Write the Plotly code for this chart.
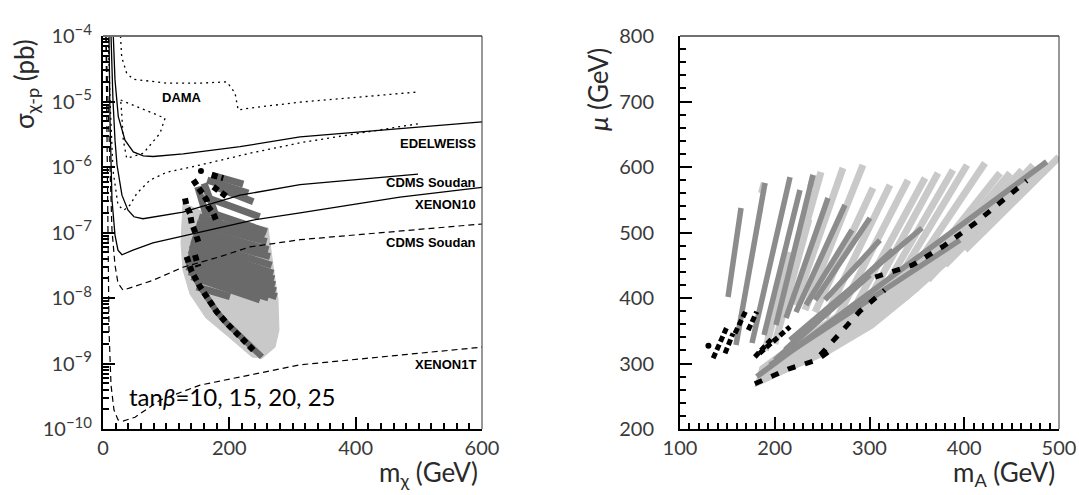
import plotly.graph_objects as go

# ---------------- Left panel: direct-detection limits (m_chi [GeV], log10 sigma [pb]) ----------------
edelweiss_m = [16.3, 19, 24.2, 34.8, 48, 63.8, 79.6, 127, 217, 312, 499, 600]
edelweiss_lg = [-4.0, -4.67, -5.23, -5.59, -5.77, -5.83, -5.84, -5.80, -5.69, -5.54, -5.39, -5.31]

cdms_m = [12.7, 15.8, 19, 22.2, 30, 39.6, 49, 63.3, 126.6, 217, 312, 498.7]
cdms_lg = [-4.0, -4.98, -5.59, -5.97, -6.43, -6.66, -6.76, -6.79, -6.69, -6.43, -6.27, -6.11]

xenon10_m = [9.5, 11.1, 14.2, 19, 23.7, 30, 47.5, 79, 133, 185, 237.5, 312, 470, 600]
xenon10_lg = [-4.0, -5.28, -6.50, -7.04, -7.27, -7.34, -7.27, -7.16, -7.04, -6.93, -6.81, -6.70, -6.46, -6.31]

cdms_proj_m = [4.7, 7.9, 11.1, 14.2, 19, 23.7, 31.7, 47.5, 79, 126.6, 185, 232.7, 312, 600]
cdms_proj_lg = [-4.0, -4.98, -6.05, -6.96, -7.50, -7.77, -7.88, -7.83, -7.73, -7.53, -7.37, -7.22, -7.11, -6.87]

xenon1t_m = [4.7, 6.3, 7.9, 9.5, 12.7, 17.4, 23.7, 31.7, 50.7, 90.2, 153.6, 232.7, 312, 600]
xenon1t_lg = [-4.0, -5.74, -7.27, -8.49, -9.33, -9.71, -9.86, -9.88, -9.82, -9.56, -9.33, -9.18, -9.02, -8.75]

dama_upper_m = [27.7, 29.6, 37.5, 48, 101, 153.6, 196, 209, 214, 232.7, 312, 498.7]
dama_upper_lg = [-4.0, -4.32, -4.57, -4.66, -4.72, -4.72, -4.70, -4.87, -5.13, -5.10, -5.01, -4.855]

dama_loop_m = [28, 98.2, 90.2, 63.8, 37.5, 32.1, 29.6, 28]
dama_loop_lg = [-4.977, -5.256, -5.486, -5.79, -5.867, -5.588, -5.18, -4.977]

dama_lower_m = [8.7, 11.1, 15.8, 23.7, 33.2, 42.7, 53.8, 74.4, 101, 153.6, 232.7, 312, 498.7]
dama_lower_lg = [-4.06, -4.98, -6.05, -6.58, -6.66, -6.58, -6.40, -6.20, -6.08, -5.97, -5.79, -5.63, -5.34]

# ---------------- Left panel: neutralino scan ----------------
# outline of the densely populated light-grey band
band_m = [126.6, 169.4, 216.9, 261.2, 272.3, 277, 278.6, 272.3, 251.7, 235.9, 201, 163, 137.7, 126.6, 123.5, 126.6]
band_lg = [-6.55, -6.733, -6.84, -6.93, -7.725, -8.03, -8.49, -8.75, -8.92, -8.90, -8.61, -8.305, -7.94, -7.57, -7.16, -6.55]

# dark-grey strands: (m0, lg0, m1, lg1)
dark_strands = [
    (172.1, -6.122, 222.1, -6.26),
    (165.0, -6.20, 230.0, -6.40),
    (177.3, -6.30, 237.9, -6.53),
    (160.0, -6.45, 248.0, -6.76),
    (158.8, -6.656, 259.2, -6.988),
    (152.0, -6.76, 256.0, -7.06),
    (148.3, -6.86, 259.2, -7.14),
    (145.0, -6.95, 262.0, -7.26),
    (143.0, -7.038, 264.4, -7.37),
    (140.0, -7.11, 267.0, -7.50),
    (137.7, -7.19, 269.6, -7.623),
    (136.0, -7.27, 271.0, -7.71),
    (135.0, -7.344, 272.3, -7.80),
    (133.5, -7.43, 273.5, -7.89),
    (132.5, -7.52, 274.9, -7.98),
    (136.0, -7.60, 262.0, -8.00),
    (140.4, -7.675, 248.5, -8.03),
    (148.3, -7.83, 201.0, -7.98),
    (150.0, -6.30, 170.0, -6.95),
    (160.0, -6.25, 185.0, -6.90),
]

# black chains
black_a_m = [143, 148.3, 156.2, 164.2, 166.7, 174.6, 180]
black_a_lg = [-6.198, -6.275, -6.377, -6.504, -6.606, -6.707, -6.835]
black_b_m = [129.8, 132.5, 137.7, 140.4, 145.6, 150.9]
black_b_lg = [-6.478, -6.606, -6.707, -6.860, -6.988, -7.140]
black_c_m = [172.1, 180, 190.4]
black_c_lg = [-6.122, -6.148, -6.172]
black_d_m = [174.6, 185.2, 195.8]
black_d_lg = [-6.301, -6.377, -6.453]
black_dot_m = [155.1]
black_dot_lg = [-6.061]
black_low_m = [132.5, 135, 140.4, 153.6, 164.2, 180, 195.8, 211.7, 235.4, 240.6]
black_low_lg = [-7.37, -7.446, -7.598, -7.827, -7.98, -8.209, -8.386, -8.539, -8.768, -8.82]
black_short_m = [145.6, 150.9]
black_short_lg = [-7.344, -7.522]

# ---------------- Right panel: m_A [GeV] vs mu [GeV] ----------------
light_band_mA = [179.2, 216.1, 258.3, 304.0, 346.3, 399.0, 451.8, 500, 494, 416.6, 346.3, 275.9, 223.1, 184.4, 179.2]
light_band_mu = [264.6, 289.1, 315.5, 354.7, 404.6, 472.3, 542.0, 610.7, 610.7, 529.3, 458.0, 386.8, 335.9, 295.2, 264.6]

# (mA0, mu0, mA1, mu1)
light_strands = [
    (210.8, 396.9, 248.8, 592.4), (221.4, 389.3, 272.0, 598.5), (231.9, 381.7, 293.1, 603.0),
    (242.5, 378.6, 303.7, 567.9), (253.0, 369.5, 321.6, 572.5), (263.6, 363.4, 340.6, 580.1),
    (274.1, 358.8, 358.6, 583.2), (284.7, 358.8, 372.3, 590.8), (295.2, 363.4, 388.1, 595.4),
    (305.8, 369.5, 402.9, 603.0), (316.4, 378.6, 421.9, 606.1), (326.9, 389.3, 437.7, 590.8),
    (337.5, 400.0, 448.3, 590.8), (348.0, 412.2, 460.9, 595.4), (361.7, 427.5, 472.6, 603.0),
    (379.7, 450.4, 487.3, 607.6), (400.8, 473.3, 500.0, 615.3),
    (200.0, 330.0, 236.0, 520.0), (190.0, 320.0, 216.0, 470.0), (186.0, 560.0, 189.0, 576.0),
    (238.0, 570.0, 241.0, 588.0),
]
gray_strands = [
    (150.7, 401.5, 164.4, 537.4), (159.1, 328.2, 189.7, 575.6), (176.0, 331.3, 216.1, 584.7),
    (188.7, 343.5, 226.6, 564.9), (201.3, 358.8, 240.4, 587.8), (211.9, 369.5, 256.2, 552.7),
    (222.4, 378.6, 274.1, 542.0), (233.0, 389.3, 281.5, 503.8), (242.5, 397.0, 300.5, 522.0),
    (253.0, 397.0, 311.0, 488.5),
    (216.1, 335.9, 355.4, 506.9), (210.8, 320.6, 324.8, 473.3), (200.3, 305.3, 300.5, 435.1),
    (194.9, 297.7, 395.5, 488.5), (181.0, 280.0, 487.0, 608.0),
]
black_r_strands = [
    (135, 308, 149, 354), (147.5, 315.5, 156, 346), (158, 346, 169, 379), (172, 351, 181, 379),
    (179, 310, 197, 338), (184, 315.5, 216, 356),
]
black_r_dot_mA = [130]
black_r_dot_mu = [327]
black_r_low_mA = [179, 215, 244, 260]
black_r_low_mu = [269, 292, 305, 321]
black_r_mid_mA = [248, 290, 316]
black_r_mid_mu = [313, 380, 412]
black_r_up_mA = [306, 345, 378, 412, 466]
black_r_up_mu = [432, 450, 479, 515, 579]

LIGHT = "#c9c9c9"
MID = "#8c8c8c"
DARK = "#6a6a6a"

fig = go.Figure()


def pw(v):
    return [10 ** t for t in v]


def strands_xy(strands, logy=False):
    xs, ys = [], []
    for x0, y0, x1, y1 in strands:
        xs += [x0, x1, None]
        ys += ([10 ** y0, 10 ** y1] if logy else [y0, y1]) + [None]
    return xs, ys


def line(x, y, color, width, dash="solid", xa="x", ya="y", fill=None, mode="lines"):
    fig.add_trace(go.Scatter(
        x=x, y=y, mode=mode, xaxis=xa, yaxis=ya, fill=fill,
        fillcolor=color if fill else None,
        line=dict(color=color, width=width, dash=dash),
        marker=dict(color=color, size=6),
        hoverinfo="skip", showlegend=False))


# left scan
line(band_m, pw(band_lg), LIGHT, 1, fill="toself")
xs, ys = strands_xy(dark_strands, logy=True)
line(xs, ys, DARK, 7)
line(black_low_m + [251.7], pw(black_low_lg + [-8.90]), DARK, 6)
for mm, ll in [(black_a_m, black_a_lg), (black_b_m, black_b_lg), (black_c_m, black_c_lg),
               (black_d_m, black_d_lg), (black_low_m, black_low_lg), (black_short_m, black_short_lg)]:
    line(mm, pw(ll), "black", 6, dash="6px,4px")
line(black_dot_m, pw(black_dot_lg), "black", 1, mode="markers")

# left curves
line(edelweiss_m, pw(edelweiss_lg), "black", 1.3)
line(cdms_m, pw(cdms_lg), "black", 1.3)
line(xenon10_m, pw(xenon10_lg), "black", 1.3)
line(cdms_proj_m, pw(cdms_proj_lg), "black", 1.2, dash="6px,4px")
line(xenon1t_m, pw(xenon1t_lg), "black", 1.2, dash="6px,4px")
line(dama_upper_m, pw(dama_upper_lg), "black", 1.3, dash="2px,4px")
line(dama_loop_m, pw(dama_loop_lg), "black", 1.3, dash="2px,4px")
line(dama_lower_m, pw(dama_lower_lg), "black", 1.3, dash="2px,4px")

# right scan
line(light_band_mA, light_band_mu, LIGHT, 1, xa="x2", ya="y2", fill="toself")
xs, ys = strands_xy(light_strands)
line(xs, ys, LIGHT, 7, xa="x2", ya="y2")
xs, ys = strands_xy(gray_strands)
line(xs, ys, MID, 5.5, xa="x2", ya="y2")
xs, ys = strands_xy(black_r_strands)
line(xs, ys, "black", 5, dash="6px,3px", xa="x2", ya="y2")
line(black_r_dot_mA, black_r_dot_mu, "black", 1, xa="x2", ya="y2", mode="markers")
for a, b in [(black_r_low_mA, black_r_low_mu), (black_r_mid_mA, black_r_mid_mu), (black_r_up_mA, black_r_up_mu)]:
    line(a, b, "black", 5, dash="8px,10px", xa="x2", ya="y2")

# ---------------- axes ----------------
TICKFONT = dict(family="Lato, 'Open Sans', sans-serif", size=20, color="#3a3a3a")
dec = list(range(-10, -3))
ytickvals = [10 ** d for d in dec]
ytext = ["10<sup><span style='font-size:15px'>\u2212%d</span></sup>" % (-d) for d in dec]
yminor = [k * 10 ** d for d in range(-10, -4) for k in range(2, 10)]

common = dict(ticks="inside", tickcolor="black", showgrid=False, zeroline=False, automargin=False,
              showline=True, linecolor="black", linewidth=2, mirror=False, tickfont=TICKFONT)

fig.update_layout(
    width=1079, height=495, margin=dict(l=0, r=0, t=0, b=0, autoexpand=False),
    plot_bgcolor="white", paper_bgcolor="white", showlegend=False,
    xaxis=dict(domain=[103 / 1079, 482 / 1079], range=[0, 600], tickvals=[0, 200, 400, 600],
               ticklen=12, tickwidth=1.5, anchor="y", ticklabelstandoff=0,
               minor=dict(ticks="inside", tickvals=list(range(20, 600, 20)), ticklen=6, tickcolor="black"),
               **common),
    yaxis=dict(domain=[66 / 495, 459 / 495], type="log", range=[-10, -4], tickvals=ytickvals,
               ticktext=ytext, ticklen=12, tickwidth=1.5, anchor="x", ticklabelstandoff=5,
               minor=dict(ticks="inside", tickvals=yminor, ticklen=6, tickcolor="black"),
               **common),
    xaxis2=dict(domain=[680 / 1079, 1059 / 1079], range=[100, 500], tickvals=[100, 200, 300, 400, 500],
                ticklen=12, tickwidth=1.5, anchor="y2", ticklabelstandoff=0,
                minor=dict(ticks="inside", tickvals=list(range(110, 500, 10)), ticklen=6, tickcolor="black"),
                **common),
    yaxis2=dict(domain=[66 / 495, 459 / 495], range=[200, 800], tickvals=list(range(200, 801, 100)),
                ticklen=12, tickwidth=1.5, anchor="x2", ticklabelstandoff=20,
                minor=dict(ticks="inside", tickvals=list(range(220, 800, 20)), ticklen=6, tickcolor="black"),
                **common),
)

# upper and right frame edges
for xr, yr in [("x domain", "y domain"), ("x2 domain", "y2 domain")]:
    fig.add_shape(type="line", xref=xr, yref=yr, x0=0, x1=1, y0=1, y1=1, line=dict(color="#707070", width=2))
    fig.add_shape(type="line", xref=xr, yref=yr, x0=1, x1=1, y0=0, y1=1, line=dict(color="#333", width=1))

# ---------------- labels ----------------
LBL = dict(family="Liberation Sans, Arial, sans-serif", size=13, color="black")
labels = [
    ("<b>DAMA</b>", 124.3, -4.94, "center"),
    ("<b>EDELWEISS</b>", 594, -5.634, "right"),
    ("<b>CDMS Soudan</b>", 594, -6.244, "right"),
    ("<b>XENON10</b>", 594, -6.58, "right"),
    ("<b>CDMS Soudan</b>", 594, -7.16, "right"),
    ("<b>XENON1T</b>", 594, -9.02, "right"),
]
for txt, xx, yy, anc in labels:
    fig.add_annotation(text=txt, x=xx, y=yy, xref="x", yref="y", xanchor=anc, yanchor="middle",
                       showarrow=False, font=LBL)

fig.add_annotation(text="tan<i>β</i>=10, 15, 20, 25", x=38, y=-9.50, xref="x", yref="y",
                   xanchor="left", yanchor="middle", showarrow=False,
                   font=dict(family="Lato, sans-serif", size=24, color="black"))

TITLE = dict(family="Lato, 'Open Sans', sans-serif", size=26, color="#2a2a2a")
fig.add_annotation(text="\u03c3<sub>\u03c7-p</sub> (pb)", x=26 / 1079, y=1 - 84 / 495, xref="paper", yref="paper",
                   textangle=-90, showarrow=False, font=TITLE, xanchor="center", yanchor="middle")
fig.add_annotation(text="<i>\u03bc</i> (GeV)", x=598 / 1079, y=1 - 90 / 495, xref="paper", yref="paper",
                   textangle=-90, showarrow=False, font=TITLE, xanchor="center", yanchor="middle")
fig.add_annotation(text="m<sub>\u03c7</sub> (GeV)", x=480 / 1079, y=1 - 493 / 495, xref="paper", yref="paper",
                   showarrow=False, font=TITLE, xanchor="right", yanchor="bottom")
fig.add_annotation(text="m<sub>A</sub> (GeV)", x=1057 / 1079, y=1 - 493 / 495, xref="paper", yref="paper",
                   showarrow=False, font=TITLE, xanchor="right", yanchor="bottom")

fig.write_html("out.html")
